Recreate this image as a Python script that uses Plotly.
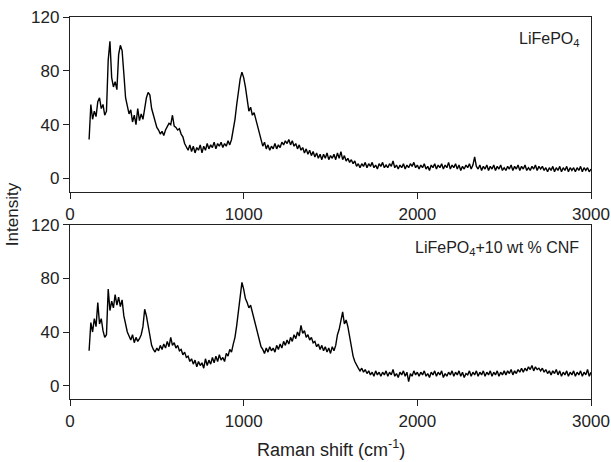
import numpy as np
import plotly.graph_objects as go
from plotly.subplots import make_subplots

# Raman shift (cm-1), 110 .. 3000 in steps of 10
shift = np.arange(110, 3001, 10)

# LiFePO4 intensity, one row per 100 cm-1
lfp = [
    29, 55, 44, 50, 46, 57, 60, 52, 55, 47,
    50, 88, 102, 75, 68, 72, 66, 92, 99, 95,
    78, 60, 54, 48, 51, 42, 47, 40, 52, 43,
    48, 44, 52, 60, 64, 62, 52, 47, 42, 38,
    36, 33, 35, 32, 36, 38, 41, 40, 47, 39,
    38, 36, 37, 33, 31, 26, 24, 21, 25, 20,
    24, 19, 23, 21, 25, 19, 24, 21, 26, 22,
    25, 23, 27, 22, 26, 24, 27, 23, 26, 24,
    28, 25, 29, 36, 44, 55, 67, 74, 79, 75,
    68, 58, 50, 53, 47, 49, 44, 37, 32, 27,
    24, 27, 22, 25, 21, 24, 22, 26, 22, 25,
    23, 27, 25, 28, 26, 29, 25, 28, 24, 26,
    22, 25, 21, 23, 19, 22, 18, 21, 17, 20,
    16, 19, 15, 18, 14, 18, 15, 19, 14, 17,
    15, 18, 14, 19, 15, 20, 14, 17, 13, 15,
    12, 14, 11, 13, 9, 11, 8, 11, 9, 12,
    8, 11, 9, 12, 8, 10, 7, 11, 9, 12,
    8, 10, 8, 11, 9, 13, 8, 10, 7, 10,
    8, 11, 7, 10, 8, 11, 9, 12, 8, 10,
    7, 10, 8, 11, 7, 9, 6, 10, 8, 11,
    7, 10, 8, 11, 7, 10, 8, 12, 7, 10,
    8, 11, 7, 10, 6, 9, 7, 10, 8, 11,
    7, 10, 16, 9, 7, 10, 6, 9, 7, 10,
    6, 9, 7, 10, 6, 9, 7, 10, 6, 8,
    6, 9, 7, 10, 6, 9, 7, 10, 6, 9,
    7, 10, 6, 8, 6, 9, 7, 10, 6, 9,
    7, 9, 6, 8, 5, 8, 6, 9, 5, 8,
    6, 9, 5, 8, 6, 9, 5, 8, 6, 8,
    5, 8, 6, 9, 5, 8, 6, 8, 5, 7,
]

# LiFePO4 + 10 wt % CNF intensity
lfp_cnf = [
    26, 47, 40, 50, 44, 62, 46, 50, 41, 36,
    38, 72, 56, 63, 58, 68, 60, 66, 59, 64,
    52, 46, 40, 37, 34, 38, 32, 36, 33, 35,
    38, 44, 57, 52, 45, 35, 30, 27, 25, 28,
    26, 30, 27, 31, 28, 33, 29, 36, 30, 32,
    28, 30, 26, 27, 23, 25, 21, 22, 18, 20,
    16, 19, 14, 18, 15, 17, 13, 20, 15, 19,
    16, 21, 17, 22, 18, 23, 19, 21, 18, 24,
    22, 27, 25, 31, 36, 45, 55, 68, 77, 72,
    65, 62, 58, 60, 55, 50, 44, 40, 34, 29,
    27, 24, 28, 25, 29, 26, 28, 25, 30, 27,
    31, 28, 33, 30, 34, 31, 36, 33, 38, 35,
    40, 37, 45, 39, 41, 36, 38, 34, 36, 32,
    33, 29, 31, 27, 30, 26, 29, 25, 28, 24,
    29, 26, 30, 38, 42, 48, 55, 46, 49, 44,
    36, 28, 22, 18, 15, 13, 11, 13, 10, 12,
    9, 11, 8, 10, 7, 11, 8, 10, 7, 10,
    8, 11, 7, 10, 8, 12, 7, 9, 6, 10,
    8, 11, 7, 10, 3, 9, 7, 11, 8, 10,
    7, 10, 8, 11, 7, 9, 6, 10, 8, 11,
    7, 10, 8, 11, 6, 9, 7, 10, 8, 11,
    7, 10, 8, 11, 7, 10, 6, 9, 8, 11,
    7, 10, 8, 11, 7, 10, 8, 11, 7, 10,
    8, 11, 7, 10, 8, 11, 7, 10, 8, 11,
    8, 11, 9, 12, 8, 11, 9, 12, 10, 13,
    10, 13, 11, 14, 12, 15, 11, 14, 12, 13,
    11, 13, 10, 12, 9, 11, 8, 11, 9, 12,
    8, 11, 7, 10, 8, 11, 7, 10, 8, 11,
    7, 10, 8, 11, 7, 10, 8, 12, 7, 10,
]

x_ticks = [0, 1000, 2000, 3000]
y_ticks = [0, 40, 80, 120]

FONT = "Liberation Sans, Arial, sans-serif"

fig = make_subplots(rows=2, cols=1, vertical_spacing=0.09)
fig.add_trace(go.Scatter(x=shift, y=lfp, mode="lines",
                         line=dict(color="black", width=1.4)), row=1, col=1)
fig.add_trace(go.Scatter(x=shift, y=lfp_cnf, mode="lines",
                         line=dict(color="black", width=1.4)), row=2, col=1)

axis_style = dict(showline=True, mirror=True, linecolor="#222", linewidth=1.3,
                  ticks="outside", ticklen=6, tickcolor="#222", showgrid=False,
                  zeroline=False, automargin=False,
                  tickfont=dict(family=FONT, size=17, color="#222"))
fig.update_xaxes(range=[0, 3000], tickvals=x_ticks, **axis_style)
fig.update_yaxes(range=[-10, 120], tickvals=y_ticks, **axis_style)
fig.update_yaxes(domain=[0.542, 1.0], row=1, col=1)
fig.update_yaxes(domain=[0.0, 0.456], row=2, col=1)

fig.add_annotation(text="LiFePO<sub>4</sub>", xref="paper", yref="paper",
                   x=0.98, y=0.94, xanchor="right", yanchor="middle", showarrow=False,
                   font=dict(family=FONT, size=16, color="#222"))
fig.add_annotation(text="LiFePO<sub>4</sub>+10 wt % CNF", xref="paper", yref="paper",
                   x=0.98, y=0.395, xanchor="right", yanchor="middle", showarrow=False,
                   font=dict(family=FONT, size=16, color="#222"))
fig.add_annotation(text="Intensity", xref="paper", yref="paper",
                   x=-0.11, y=0.483, xanchor="center", yanchor="middle",
                   textangle=-90, showarrow=False,
                   font=dict(family=FONT, size=17, color="#222"))
fig.add_annotation(text="Raman shift (cm<sup>-1</sup>)", xref="paper", yref="paper",
                   x=0.5, y=-0.13, xanchor="center", yanchor="middle", showarrow=False,
                   font=dict(family=FONT, size=18, color="#222"))

fig.update_layout(width=611, height=462, showlegend=False,
                  margin=dict(l=70, r=20, t=17, b=63),
                  plot_bgcolor="white", paper_bgcolor="white")
# drop the page's default body margin so the figure sits at the window's corner
fig.write_html("out.html", config={"displayModeBar": False},
               post_script="document.body.style.margin='0';")
